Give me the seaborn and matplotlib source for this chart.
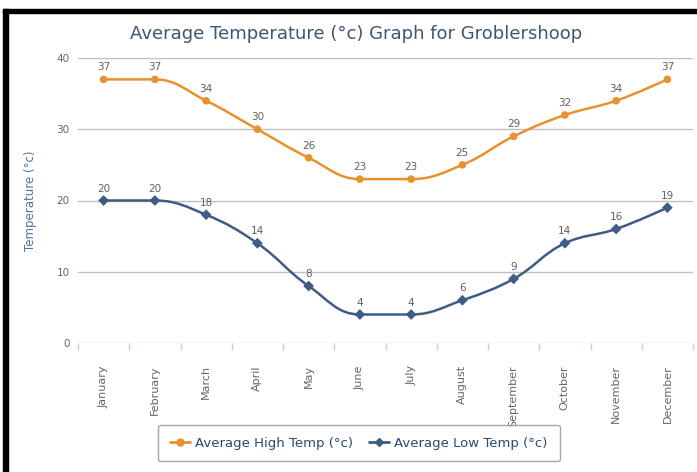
import numpy as np
import pandas as pd
import matplotlib
matplotlib.use("Agg")
import matplotlib.pyplot as plt
import seaborn as sns
from matplotlib.path import Path
from matplotlib.patches import PathPatch, Rectangle
from matplotlib.lines import Line2D

months = ["January", "February", "March", "April", "May", "June", "July",
          "August", "September", "October", "November", "December"]
high_temp = [37, 37, 34, 30, 26, 23, 23, 25, 29, 32, 34, 37]
low_temp = [20, 20, 18, 14, 8, 4, 4, 6, 9, 14, 16, 19]
y_ticks = [0, 10, 20, 30, 40]

title = "Average Temperature (°c) Graph for Groblershoop"
ylabel = "Temperature (°c)"
high_name = "Average High Temp (°c)"
low_name = "Average Low Temp (°c)"

ORANGE = "#E8912E"
BLUE = "#3E5C85"

sns.set_theme(style="white")
plt.rcParams["font.family"] = ["DejaVu Sans"]

W, H = 697, 472
fig = plt.figure(figsize=(W / 100, H / 100), dpi=100)
ax_l, ax_r, ax_t, ax_b = 78, 693, 58, 343
ax = fig.add_axes([ax_l / W, 1 - ax_b / H, (ax_r - ax_l) / W, (ax_b - ax_t) / H])

x = np.arange(len(months))
ax.set_xlim(-0.5, len(months) - 0.5)
ax.set_ylim(0, 40)

df = pd.DataFrame({"x": np.concatenate([x, x]),
                   "temp": high_temp + low_temp,
                   "series": [high_name] * 12 + [low_name] * 12})


def spline_path(xs, ys):
    pts = ax.transData.transform(np.column_stack([xs, ys]))
    n = len(pts)
    sm = 1.5
    den = sm + 1
    lc = [None] * n
    rc = [None] * n
    for i in range(n):
        px, py = pts[i]
        if i == 0 or i == n - 1:
            lc[i] = (px, py)
            rc[i] = (px, py)
            continue
        lx, ly = pts[i - 1]
        nx, ny = pts[i + 1]
        lcx = (sm * px + lx) / den
        lcy = (sm * py + ly) / den
        rcx = (sm * px + nx) / den
        rcy = (sm * py + ny) / den
        dl = np.hypot(lcx - px, lcy - py)
        dr = np.hypot(rcx - px, rcy - py)
        la = np.arctan2(lcy - py, lcx - px)
        ra = np.arctan2(rcy - py, rcx - px)
        ja = np.pi / 2 + (la + ra) / 2
        if abs(la - ja) > np.pi / 2:
            ja -= np.pi
        lcx = px + np.cos(ja) * dl
        lcy = py + np.sin(ja) * dl
        rcx = px + np.cos(np.pi + ja) * dr
        rcy = py + np.sin(np.pi + ja) * dr
        if lcy > max(ly, py):
            lcy = max(ly, py); rcy = 2 * py - lcy
        elif lcy < min(ly, py):
            lcy = min(ly, py); rcy = 2 * py - lcy
        if rcy > max(py, ny):
            rcy = max(py, ny); lcy = 2 * py - rcy
        elif rcy < min(py, ny):
            rcy = min(py, ny); lcy = 2 * py - rcy
        lc[i] = (lcx, lcy)
        rc[i] = (rcx, rcy)
    verts = [tuple(pts[0])]
    codes = [Path.MOVETO]
    for i in range(1, n):
        verts += [rc[i - 1], lc[i], tuple(pts[i])]
        codes += [Path.CURVE4] * 3
    inv = ax.transData.inverted()
    verts = inv.transform(np.array(verts))
    return Path(verts, codes)


# grid
for t in y_ticks:
    ax.axhline(t, color="#C0C0C0" if t else "#C0D0E0", lw=1, zorder=0)

for vals, col in [(high_temp, ORANGE), (low_temp, BLUE)]:
    ax.add_patch(PathPatch(spline_path(x, vals), fill=False, edgecolor=col,
                           lw=1.8, zorder=2, capstyle="round", joinstyle="round"))

sns.scatterplot(data=df, x="x", y="temp", hue="series", style="series",
                markers={high_name: "o", low_name: "D"},
                palette={high_name: ORANGE, low_name: BLUE},
                s=30, edgecolor="none", ax=ax, zorder=3, legend=False)

for vals in [high_temp, low_temp]:
    for xi, v in zip(x, vals):
        ax.annotate(str(v), (xi, v), xytext=(0, 5), textcoords="offset points",
                    ha="center", va="bottom", fontsize=7.5, color="#606060")

for s in ax.spines.values():
    s.set_visible(False)

ax.set_yticks(y_ticks)
ax.set_yticklabels([str(t) for t in y_ticks], fontsize=7.5, color="#666666")
ax.tick_params(axis="y", length=0, pad=6)

ax.set_xticks(x)
ax.set_xticklabels(months, rotation=90, fontsize=8, color="#666666", va="top")
ax.tick_params(axis="x", length=0, pad=16)
ax.set_xticks(np.arange(-0.5, len(months), 1.0), minor=True)
ax.tick_params(axis="x", which="minor", bottom=True, length=5, color="#C0D0E0", width=1)

ax.set_xlabel("")
ax.set_ylabel(ylabel, fontsize=8.5, color="#4D759E")
ax.yaxis.set_label_coords((37 - ax_l) / (ax_r - ax_l), 0.5)

fig.text(356 / W, 1 - 34 / H, title, ha="center", va="center",
         fontsize=13, color="#3E576F")

handles = [Line2D([0], [0], color=ORANGE, lw=2, marker="o", markersize=5),
           Line2D([0], [0], color=BLUE, lw=2, marker="D", markersize=4)]
leg = fig.legend(handles, [high_name, low_name], loc="center",
                 bbox_to_anchor=(359 / W, 1 - 443 / H), ncol=2, frameon=True,
                 fancybox=True, fontsize=9.5, handlelength=1.5, columnspacing=1.2,
                 handletextpad=0.4, borderpad=0.9)
leg.get_frame().set_edgecolor("#909090")
leg.get_frame().set_linewidth(1)
for t in leg.get_texts():
    t.set_color("#274B6D")

# black frame on top and left
fig.add_artist(Rectangle((3 / W, 0), 5 / W, 1 - 9 / H, transform=fig.transFigure,
                         color="black", zorder=10))
fig.add_artist(Rectangle((3 / W, 1 - 13 / H), 1 - 3 / W, 4 / H, transform=fig.transFigure,
                         color="black", zorder=10))

fig.savefig("out.png", dpi=100)
